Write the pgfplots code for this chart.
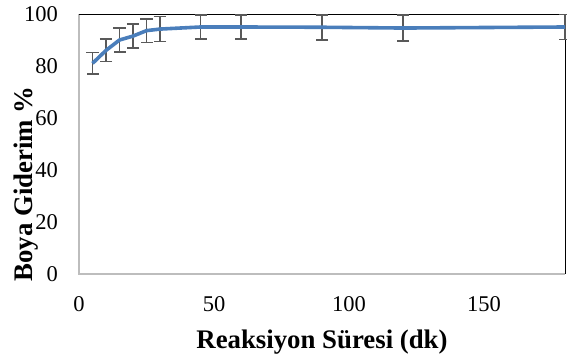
\documentclass[border=0pt]{standalone}
\usepackage{pgfplots}
\pgfplotsset{compat=1.18}
\usepackage{fontspec}
\setmainfont{Liberation Serif}
\definecolor{lineblue}{HTML}{4A7EBB}
\definecolor{errgray}{HTML}{595959}
\definecolor{axgray}{HTML}{BDBDBD}
\begin{document}
\begin{tikzpicture}
\path[use as bounding box] (0,0) rectangle (567bp,360bp);
\pgfplotstableread{
x y e
5 81.0 4.2
10 86.0 4.3
15 90.0 4.5
20 91.5 4.6
25 93.6 4.6
30 94.2 4.8
45 95.0 4.7
60 95.0 4.6
90 94.9 4.8
120 94.6 4.9
180 95.0 4.8
}\datatable
\begin{axis}[
  at={(79bp,86bp)}, anchor=south west,
  scale only axis, width=486bp, height=260bp,
  xmin=0, xmax=180, ymin=0, ymax=100,
  xtick={0,50,100,150}, ytick={0,20,40,60,80,100},
  major tick length=0pt,
  axis line style={draw=none},
  clip=false,
  /pgf/number format/assume math mode=true,
  tick label style={font=\fontsize{22.5bp}{24bp}\selectfont},
  xticklabel style={anchor=north, inner sep=0pt, yshift=-22bp},
  yticklabel style={anchor=east, inner sep=0pt, xshift=-21bp},
  xlabel={Reaksiyon Süresi (dk)},
  ylabel={Boya Giderim \%},
  label style={font=\fontsize{26.8bp}{28bp}\selectfont\bfseries},
  xlabel style={at={(axis description cs:0.5,0)}, anchor=base, yshift=-74bp},
  ylabel style={at={([xshift=-53bp]axis description cs:0,0.346)}, anchor=center},
]
\draw[axgray, line width=1.3bp] (rel axis cs:0,1) -- (rel axis cs:0,0) -- (rel axis cs:1,0);
\draw[black, line width=0.9bp] (rel axis cs:0,1) -- (rel axis cs:1,1) -- (rel axis cs:1,0);
\addplot[draw=none, no marks, forget plot,
  error bars/.cd, y dir=both, y explicit,
  error bar style={errgray, line width=1.8bp},
  error mark options={rotate=90, mark size=6bp, errgray, line width=1.8bp}]
  table[x=x, y=y, y error=e] {\datatable};
\addplot[lineblue, line width=3.6bp, no marks, line join=round] table[x=x, y=y] {\datatable};
\end{axis}
\end{tikzpicture}
\end{document}
